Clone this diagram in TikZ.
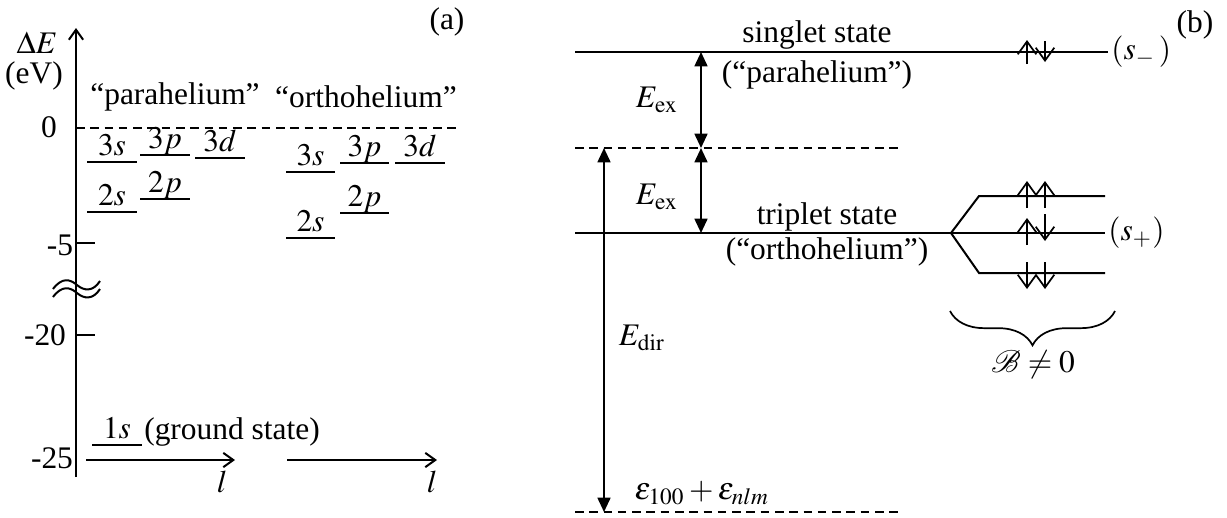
\documentclass[tikz,border=0pt]{standalone}
\usepackage{mathptmx}
\usepackage{amsmath}
\usepackage{mathrsfs}
\usepackage[no-math]{fontspec}
\setmainfont{Liberation Serif}
\usetikzlibrary{arrows.meta,decorations.pathreplacing}

\begin{document}
\begin{tikzpicture}[x=0.35pt,y=-0.35pt,
  every node/.style={font=\fontsize{11}{13}\selectfont},
  lev/.style={line width=0.7pt},
  dsh/.style={line width=0.7pt, dash pattern=on 3pt off 2pt},
  axis/.style={line width=0.7pt, -{Straight Barb[length=3.5pt,width=5pt]}},
  gap/.style={line width=0.7pt, {Triangle[length=5pt,width=4.5pt]}-{Triangle[length=5pt,width=4.5pt]}},
  spin/.style={line width=0.6pt, -{Straight Barb[length=4.5pt,width=6.5pt]}},
  tag/.style={above, inner sep=2pt, text depth=0pt}]

\useasboundingbox (0,0) rectangle (1227,517);

\coordinate (yb) at (76,477);
\coordinate (yt) at (76,28);
\draw[axis] (yb)--(yt);
\node (dE)  at (37,43)  {$\Delta E$};
\node (eV)  at (34,76)  {(eV)};
\node (pa)  at (447,22) {(a)};
\node (par) at (175,97) {``parahelium''};
\node (ort) at (366,97) {``orthohelium''};

\coordinate (z0) at (76,128); \coordinate (z1) at (460,128);
\draw[dsh] (z0)--(z1);
\node (t0)  at (49,127) {0};
\node (t5)  at (60,245) {-5};
\node (t20) at (45,335) {-20};
\node (t25) at (52,458) {-25};
\draw[lev] (76,243)--(95,243);
\draw[lev] (76,335)--(95,335);

\draw[lev] (53,289) .. controls (62,277) and (70,279) .. (77,285) .. controls (84,291) and (93,292) .. (100,281);
\draw[lev] (53,297) .. controls (62,285) and (70,287) .. (77,293) .. controls (84,299) and (93,300) .. (100,289);

\draw[lev] (87,162)--node[tag] (p3s) {$3s$} (137,162);
\draw[lev] (140,155)--node[tag] (p3p) {$3p$} (190,155);
\draw[lev] (195,158)--node[tag] (p3d) {$3d$} (245,158);
\draw[lev] (87,212)--node[tag] (p2s) {$2s$} (137,212);
\draw[lev] (140,199)--node[tag] (p2p) {$2p$} (190,199);

\draw[lev] (286,172)--node[tag] (o3s) {$3s$} (335,172);
\draw[lev] (340,163)--node[tag] (o3p) {$3p$} (389,163);
\draw[lev] (395,163)--node[tag] (o3d) {$3d$} (445,163);
\draw[lev] (340,213)--node[tag] (o2p) {$2p$} (389,213);
\draw[lev] (286,238)--node[tag] (o2s) {$2s$} (335,238);

\draw[lev] (92,445)--node[tag] (g1s) {$1s$} (142,445);
\node (gs) at (232,432) {(ground state)};

\coordinate (h1a) at (86,460);  \coordinate (h1b) at (235,460);
\coordinate (h2a) at (287,460); \coordinate (h2b) at (437,460);
\draw[axis] (h1a)--(h1b);
\draw[axis] (h2a)--(h2b);
\node (l1) at (222,482) {$l$};
\node (l2) at (432,482) {$l$};

\node (pb) at (1195,25) {(b)};
\coordinate (sgL) at (575,52); \coordinate (sgR) at (1108,52);
\draw[lev] (sgL)--(sgR);
\node[anchor=west, inner sep=1pt] (sm) at (sgR) {$(s_{-}\,)$};
\node (sgt) at (817,35) {singlet state};
\node (sgp) at (817,75) {(``parahelium'')};

\coordinate (dL) at (575,148); \coordinate (dR) at (903,148);
\draw[dsh] (dL)--(dR);
\coordinate (e1) at (701,52); \coordinate (e2) at (701,148); \coordinate (e3) at (701,233);
\draw[gap] (e1)--(e2);
\draw[gap] (e2)--(e3);
\node (ex1) at (657,100) {$E_{\mathrm{ex}}$};
\node (ex2) at (657,197) {$E_{\mathrm{ex}}$};

\coordinate (trL) at (575,233); \coordinate (sp) at (951,233); \coordinate (trR) at (1105,233);
\coordinate (upK) at (979,196); \coordinate (upR) at (1105,196);
\coordinate (loK) at (979,273); \coordinate (loR) at (1105,273);
\draw[lev] (trL)--(sp)--(trR);
\draw[lev] (sp)--(upK)--(upR);
\draw[lev] (sp)--(loK)--(loR);
\node[anchor=west, inner sep=1pt] (spl) at (trR) {$(s_{+})$};
\node (trt) at (827,217) {triplet state};
\node (tro) at (827,252) {(``orthohelium'')};

\coordinate (bL) at (575,512); \coordinate (bR) at (903,512);
\draw[dsh] (bL)--(bR);
\coordinate (d1) at (604,148); \coordinate (d2) at (604,512);
\draw[gap] (d1)--(d2);
\node (edir) at (642,338) {$E_{\mathrm{dir}}$};
\node (eps) at (702,493) {$\varepsilon_{100}+\varepsilon_{nlm}$};

\draw[spin] (1027,64)--(1027,40);  \draw[spin] (1045,41)--(1045,62);
\draw[spin] (1027,208)--(1027,181); \draw[spin] (1045,208)--(1045,181);
\draw[spin] (1027,245)--(1027,218); \draw[spin] (1045,214)--(1045,241);
\draw[spin] (1027,262)--(1027,289); \draw[spin] (1045,262)--(1045,289);

\draw[decorate, decoration={brace, amplitude=12pt}, line width=0.6pt] (1115,311)--(950,311);
\node (bne) at (1033,365) {$\boldsymbol{\mathscr{B}}\neq 0$};
\end{tikzpicture}
\end{document}
